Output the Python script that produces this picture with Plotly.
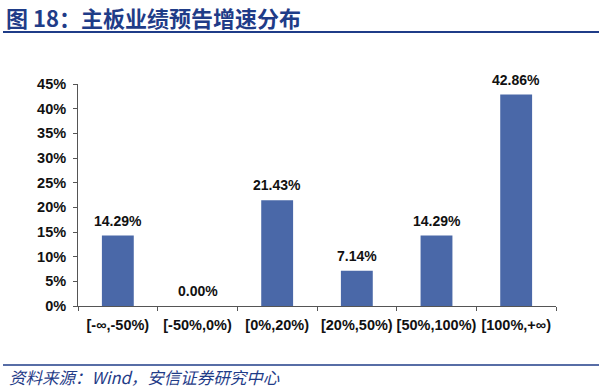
import plotly.graph_objects as go

categories = ["[-∞,-50%)", "[-50%,0%)", "[0%,20%)", "[20%,50%)", "[50%,100%)", "[100%,+∞)"]
values = [14.29, 0.00, 21.43, 7.14, 14.29, 42.86]
tick_vals = [0, 5, 10, 15, 20, 25, 30, 35, 40, 45]
tick_text = [f"{v}%" for v in tick_vals]

bar_color = "#4A68A8"
title_color = "#1F3C88"
font_main = "Liberation Sans, Arial, sans-serif"
cjk = "Noto Sans CJK SC, sans-serif"

fig = go.Figure(go.Bar(
    x=categories, y=values,
    marker=dict(color=bar_color, line=dict(width=0)),
    width=0.4,
    hoverinfo="skip",
))

label_annots = [
    dict(x=c, y=v, xref="x", yref="y", text=f"<b>{v:.2f}%</b>", showarrow=False,
         yanchor="middle", yshift=15,
         font=dict(family=font_main, size=14, color="#111111"))
    for c, v in zip(categories, values)
]

fig.update_layout(
    width=600, height=391,
    margin=dict(l=78, r=44, t=84, b=85, autoexpand=False),
    paper_bgcolor="white", plot_bgcolor="white",
    showlegend=False,
    xaxis=dict(
        showline=True, linecolor="#555555", linewidth=1,
        ticks="outside", ticklen=4, tickcolor="#555555",
        tickson="boundaries", tickangle=0, automargin=False,
        ticklabelstandoff=6,
        tickfont=dict(family=font_main, size=14.5, color="#111111", weight="bold"),
        showgrid=False,
    ),
    yaxis=dict(
        range=[0, 45], tickvals=tick_vals, ticktext=tick_text,
        showline=True, linecolor="#555555", linewidth=1,
        ticks="outside", ticklen=4, tickcolor="#555555", automargin=False,
        ticklabelstandoff=4,
        tickfont=dict(family=font_main, size=14.5, color="#111111", weight="bold"),
        showgrid=False, zeroline=False,
    ),
    shapes=[
        dict(type="line", xref="paper", yref="paper", x0=-75/478, x1=(599-78)/478,
             y0=1 + (84-32)/222, y1=1 + (84-32)/222,
             line=dict(color=title_color, width=2)),
        dict(type="line", xref="paper", yref="paper", x0=-75/478, x1=(599-78)/478,
             y0=-(365-306)/222, y1=-(365-306)/222,
             line=dict(color=title_color, width=1.5)),
    ],
    annotations=label_annots + [
        dict(text="<b>图 18：主板业绩预告增速分布</b>", xref="paper", yref="paper",
             x=-74/478, y=1 + (84-17)/222, xanchor="left", yanchor="middle",
             showarrow=False, font=dict(family=cjk, size=22, color=title_color)),
        dict(text="<i>资料来源：Wind，安信证券研究中心</i>", xref="paper", yref="paper",
             x=-71/478, y=-(377-306)/222, xanchor="left", yanchor="middle",
             showarrow=False, font=dict(family=cjk, size=16.5, color=title_color)),
    ],
)

fig.write_html("out.html", config={"displayModeBar": False},
               post_script="document.body.style.margin='0';")
